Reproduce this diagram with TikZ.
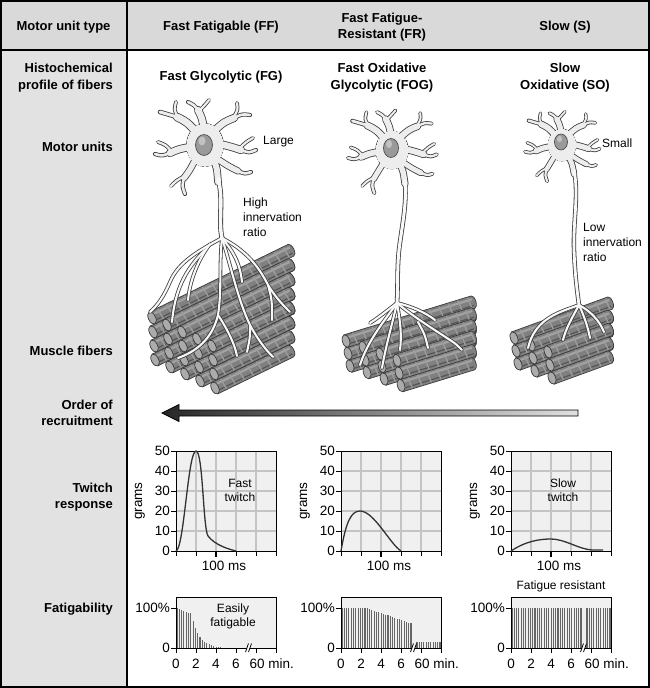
\documentclass[tikz,border=0pt]{standalone}
\usepackage{fontspec}
\setmainfont{Liberation Sans}
\definecolor{hdr}{HTML}{D9D9D9}
\definecolor{lcol}{HTML}{E2E2E2}
\definecolor{plotbg}{HTML}{F0F0F0}
\definecolor{gridc}{HTML}{C4C4C4}
\definecolor{fibg}{HTML}{808080}
\definecolor{fibd}{HTML}{3A3A3A}
\definecolor{fibh}{HTML}{A2A2A2}
\definecolor{capg}{HTML}{ABABAB}
\definecolor{barc}{HTML}{666666}
\definecolor{nrvd}{HTML}{3C3C3C}
\definecolor{somac}{HTML}{EDEDED}
\definecolor{axc}{HTML}{F8F8F8}
\definecolor{nucc}{HTML}{9A9A9A}
\tikzset{
  rowlab/.style={font=\fontsize{13}{16.5}\selectfont\bfseries, align=right, anchor=east, inner sep=0pt},
  collab/.style={font=\fontsize{13}{16.5}\selectfont\bfseries, align=center, inner sep=0pt},
  note/.style={font=\fontsize{12}{15}\selectfont, align=left, anchor=west, inner sep=0pt},
  plotnote/.style={font=\fontsize{12}{14}\selectfont, align=center, inner sep=0pt},
  axnum/.style={font=\fontsize{13.5}{15}\selectfont, inner sep=0pt},
  twcurve/.style={draw=black!80, line width=1.3, line join=round},
  fbar/.style={draw=barc, line width=1.1},
  tick/.style={draw=black, line width=0.9},
}
% fiber cylinder: cap x, cap y, length, angle
\newcommand\fib[4]{%
  \begin{scope}[shift={(#1,#2)},rotate=#4]
    \filldraw[fill=fibg,draw=fibd,line width=0.7] (0,-6.5) -- (#3,-6.5)
      arc[start angle=-90,end angle=90,x radius=3,y radius=6.5] -- (0,6.5) -- cycle;
    \draw[fibh,line width=2.2] (3,-3) -- (#3,-3);
    \draw[fibd!60!fibg,line width=1.2] (3,3.4) -- (#3,3.4);
    \foreach \s in {9,19,...,#3} \draw[fibh!85!fibg,line width=1.3] (\s,-5.6) -- (\s+1,5.6);
    \filldraw[fill=capg,draw=fibd,line width=0.7] (0,0) ellipse[x radius=3.6,y radius=6.5];
  \end{scope}}
% soma with dendrites, one pass
\newcommand\somapass[2]{%
  \filldraw[fill=#2,draw=#2,line width=#1] (0,0) ellipse[x radius=18,y radius=21];
  \foreach \w/\ax/\ay/\bx/\by/\cx/\cy in {
    7/-8/-12/-18/-23/-28/-28, 3/-28/-28/-37/-31/-45/-33, 2.2/-27/-28/-31/-35/-29/-43,
    6.5/-1/-16/-3/-27/-7/-35, 2.6/-7/-35/-11/-40/-17/-43, 2.2/-6/-34/0/-40/4/-45,
    6.5/9/-14/19/-23/29/-27, 2.6/29/-27/37/-31/45/-30, 2.2/28/-27/33/-35/32/-42,
    6.5/15/-1/27/2/36/5, 2.6/36/5/44/8/51/5, 2.2/34/4/41/-3/48/-7,
    5.5/11/13/23/21/33/26, 2.6/33/26/40/29/46/27,
    6.5/-15/2/-26/4/-35/8, 2.6/-35/8/-43/11/-50/9, 2.2/-33/7/-39/0/-47/-3,
    5.5/-10/15/-15/25/-21/33, 2.6/-21/33/-23/41/-20/49, 2.2/-20/31/-28/35/-34/41}
    \draw[color=#2,line width=\w*\wf+#1,line cap=round] (\ax,\ay) .. controls (\bx,\by) .. (\cx,\cy);
}
\begin{document}
\begin{tikzpicture}[x=1pt,y=-1pt]
\useasboundingbox (0,0) rectangle (650,688);
% backgrounds
\fill[white] (0,0) rectangle (650,688);
\fill[hdr] (0,0) rectangle (650,50);
\fill[lcol] (0,50) rectangle (127,688);
\draw[black,line width=1.5] (0,50) -- (650,50);
\draw[black,line width=1.5] (127,0) -- (127,688);
\draw[black,line width=2] (1,1) rectangle (649,687);

% header
\node[collab] (hmu) at (63.5,27) {Motor unit type};
\node[collab] (hff) at (221,27) {Fast Fatigable (FF)};
\node[collab] (hfr) at (382,27) {Fast Fatigue-\\Resistant (FR)};
\node[collab] (hs) at (565,27) {Slow (S)};
% row labels
\node[rowlab] (lhist) at (113,77.5) {Histochemical\\profile of fibers};
\node[rowlab] (lmu) at (113,147) {Motor units};
\node[rowlab] (lmf) at (113,351) {Muscle fibers};
\node[rowlab] (lord) at (113,413) {Order of\\recruitment};
\node[rowlab] (ltw) at (113,497) {Twitch\\response};
\node[rowlab] (lfat) at (113,609) {Fatigability};
% histochemical
\node[collab] (fg) at (221,77) {Fast Glycolytic (FG)};
\node[collab] (fog) at (382,77.5) {Fast Oxidative\\Glycolytic (FOG)};
\node[collab] (so) at (565,77.5) {Slow\\Oxidative (SO)};

% ---------- fiber bundles ----------
\foreach \i in {0,...,4} \foreach \k in {0,...,3} {
  \pgfmathsetmacro\fx{155+15*\i-1*\k}
  \pgfmathsetmacro\fy{360+7*\i-14*\k}
  \pgfmathsetmacro\fl{(291-\fx)/cos(26)}
  \fib{\fx}{\fy}{\fl}{26}
}
\foreach \i in {0,...,3} \foreach \k in {0,...,2} {
  \pgfmathsetmacro\fx{350+17*\i-2*\k}
  \pgfmathsetmacro\fy{366+6.5*\i-12.5*\k}
  \pgfmathsetmacro\fl{(473-\fx)/cos(17)}
  \fib{\fx}{\fy}{\fl}{17}
}
\foreach \i in {0,...,2} \foreach \k in {0,...,2} {
  \pgfmathsetmacro\fx{518+17*\i-2*\k}
  \pgfmathsetmacro\fy{364+7*\i-13*\k}
  \pgfmathsetmacro\fl{(610-\fx)/cos(20)}
  \fib{\fx}{\fy}{\fl}{20}
}

% ---------- neuron FF ----------
\foreach \ex/\col/\scol in {1.6/nrvd/nrvd,0/axc/somac}{
  \begin{scope}[shift={(205,145)}]\def\wf{1}\somapass{\ex}{\scol}\end{scope}
  \draw[color=\scol,line width=6+\ex,line cap=round] (213,158) .. controls (217,168) .. (218,182);
  \draw[color=\col,line width=3.4+\ex,line cap=round] (218,178) .. controls (224,200) and (218,220) .. (222,238);
  \begin{scope}[color=\col,line width=2.1+\ex,line cap=round,line join=round]
    \draw (222,238) .. controls (200,250) and (178,262) .. (170,282) .. controls (164,296) and (158,305) .. (150,312);
    \draw (205,250) .. controls (185,270) and (175,290) .. (172,322);
    \draw (222,238) .. controls (219,265) and (222,290) .. (218,315) .. controls (212,340) and (195,352) .. (178,358);
    \draw (218,315) .. controls (228,330) and (235,345) .. (237,356);
    \draw (222,238) .. controls (232,270) and (238,300) .. (250,325) .. controls (258,340) and (266,350) .. (273,357);
    \draw (250,325) .. controls (250,338) .. (247,352);
    \draw (222,238) .. controls (245,250) and (258,265) .. (268,285) .. controls (276,298) and (283,305) .. (290,312);
    \draw (268,285) .. controls (272,300) .. (272,320);
    \draw (222,238) .. controls (232,250) and (240,262) .. (242,282);
    \draw (210,244) .. controls (198,260) and (190,280) .. (188,300);
  \end{scope}
}
\filldraw[fill=nucc,draw=black!70,line width=0.7] (204,145) ellipse[x radius=8.5,y radius=10.5];
\fill[nucc!60!white] (202,141) ellipse[x radius=3.5,y radius=4.5];

% ---------- neuron FR ----------
\foreach \ex/\col/\scol in {1.6/nrvd/nrvd,0/axc/somac}{
  \begin{scope}[shift={(392,150)},scale=0.88]\def\wf{0.9}\somapass{\ex}{\scol}\end{scope}
  \draw[color=\scol,line width=5.5+\ex,line cap=round] (399,163) .. controls (403,170) .. (405,184);
  \draw[color=\col,line width=3+\ex,line cap=round] (405,180) .. controls (407,205) and (402,225) .. (399,250) .. controls (397,270) and (398,285) .. (397,303);
  \begin{scope}[color=\col,line width=2.1+\ex,line cap=round,line join=round]
    \draw (397,303) .. controls (385,320) and (368,340) .. (360,365);
    \draw (397,303) .. controls (392,325) and (386,345) .. (382,368);
    \draw (397,303) .. controls (400,320) and (402,335) .. (400,350);
    \draw (397,303) .. controls (415,318) and (435,330) .. (450,340) .. controls (456,344) .. (462,350);
    \draw (397,303) .. controls (410,306) and (425,312) .. (435,320);
    \draw (397,303) .. controls (388,310) and (378,318) .. (370,323);
    \draw (418,322) .. controls (425,335) .. (428,348);
  \end{scope}
}
\filldraw[fill=nucc,draw=black!70,line width=0.7] (391,148) ellipse[x radius=7.5,y radius=9.5];
\fill[nucc!60!white] (389,144) ellipse[x radius=3,y radius=4];

% ---------- neuron S ----------
\foreach \ex/\col/\scol in {1.6/nrvd/nrvd,0/axc/somac}{
  \begin{scope}[shift={(562,145)},scale=0.74]\def\wf{0.8}\somapass{\ex}{\scol}\end{scope}
  \draw[color=\scol,line width=4.8+\ex,line cap=round] (568,156) .. controls (572,163) .. (574,174);
  \draw[color=\col,line width=2.8+\ex,line cap=round] (574,170) .. controls (579,195) and (573,220) .. (574,250) .. controls (575,275) and (577,290) .. (579,305);
  \begin{scope}[color=\col,line width=2.1+\ex,line cap=round,line join=round]
    \draw (579,305) .. controls (560,312) and (535,318) .. (528,348);
    \draw (579,305) .. controls (572,318) and (566,328) .. (563,340);
    \draw (579,305) .. controls (585,318) and (588,328) .. (590,338);
    \draw (579,305) .. controls (592,312) and (600,322) .. (604,332);
  \end{scope}
}
\filldraw[fill=nucc,draw=black!70,line width=0.7] (561,142) ellipse[x radius=6.5,y radius=8];
\fill[nucc!60!white] (559.5,139) ellipse[x radius=2.5,y radius=3.2];

% motor unit notes
\node[note] (nlarge) at (263,142) {Large};
\node[note] (nhigh) at (243,217) {High\\innervation\\ratio};
\node[note] (nsmall) at (602,143) {Small};
\node[note] (nlow) at (583,242) {Low\\innervation\\ratio};

% ---------- recruitment arrow ----------
\shadedraw[left color=black!85,right color=black!12,draw=black,line width=0.8]
  (162,413) -- (179,404.5) -- (179,410) -- (578,410) -- (578,416) -- (179,416) -- (179,421.5) -- cycle;

% ---------- twitch plots ----------
\foreach \xo in {176,341,511}{
  \fill[plotbg] (\xo,451) rectangle ++(100,100);
  \foreach \j in {1,...,4}{
    \draw[gridc,line width=1.1] (\xo+20*\j,451) -- (\xo+20*\j,551);
    \draw[gridc,line width=1.1] (\xo,451+20*\j) -- (\xo+100,451+20*\j);
  }
  \draw[black,line width=1] (\xo,451) rectangle ++(100,100);
  \foreach \v in {0,10,...,50}{
    \draw[tick] (\xo-5,551-2*\v) -- (\xo,551-2*\v);
    \node[axnum,anchor=east] at (\xo-6,551-2*\v) {\v};
  }
  \foreach \j in {0,...,5} \draw[tick] (\xo+20*\j,551) -- (\xo+20*\j,556);
  \draw[black,line width=1.8] (\xo+40,551) -- (\xo+40,557);
  \node[axnum,rotate=90] at (\xo-36,501) {grams};
  \node[axnum] at (\xo+48,566) {100 ms};
}
\draw[twcurve] (176,551) .. controls (184,549) and (188,451) .. (196,451) .. controls (203,451) and (203,528) .. (208,536) .. controls (215,545) and (228,549) .. (236,551);
\draw[twcurve] (341,551) .. controls (346,522) and (351,511) .. (360,511) .. controls (374,511) and (390,544) .. (401,551);
\draw[twcurve] (511,551) .. controls (526,541) and (540,539) .. (551,539) .. controls (565,539) and (578,549) .. (592,550) -- (603,550);
\node[plotnote] (ftw) at (240,490) {Fast\\twitch};
\node[plotnote] (stw) at (563,490) {Slow\\twitch};

% ---------- fatigability plots ----------
\foreach \xo in {176,341,511} \fill[plotbg] (\xo,597) rectangle ++(100,51);
\foreach \n in {0,...,19}{
  \pgfmathsetmacro\t{1+2.3*\n}
  \pgfmathsetmacro\h{(\t<15) ? (100-0.9*\t) : (86.5*exp(-(\t-15)/8))}
  \draw[fbar] (176+\t,648) -- (176+\t,648-0.4*\h);
}
\foreach \n in {0,...,30}{
  \pgfmathsetmacro\t{1+2.3*\n}
  \pgfmathsetmacro\h{(\t<25) ? 100 : (100-0.85*(\t-25))}
  \draw[fbar] (341+\t,648) -- (341+\t,648-0.4*\h);
}
\foreach \n in {0,...,10}{
  \pgfmathsetmacro\t{76+2.3*\n}
  \draw[fbar] (341+\t,648) -- (341+\t,641.6);
}
\foreach \n in {0,...,30}{
  \pgfmathsetmacro\t{1+2.3*\n}
  \draw[fbar] (511+\t,648) -- (511+\t,608);
}
\foreach \n in {0,...,10}{
  \pgfmathsetmacro\t{76+2.3*\n}
  \draw[fbar] (511+\t,648) -- (511+\t,608);
}
\foreach \xo in {176,341,511}{
  \draw[black,line width=1] (\xo,597) rectangle ++(100,51);
  \draw[tick] (\xo-5,608) -- (\xo,608);
  \draw[tick] (\xo-5,648) -- (\xo,648);
  \node[axnum,anchor=east] at (\xo-6,608) {100\%};
  \node[axnum,anchor=east] at (\xo-6,648) {0};
  \foreach \j in {0,...,5} \draw[tick] (\xo+20*\j,648) -- (\xo+20*\j,653);
  \foreach \j/\l in {0/0,1/2,2/4,3/6} \node[axnum] at (\xo+20*\j,664) {\l};
  \node[axnum,anchor=west] at (\xo+73.5,664) {60 min.};
  \fill[white] (\xo+69.5,652) -- (\xo+72.5,643.5) -- (\xo+75.5,643.5) -- (\xo+72.5,652) -- cycle;
  \draw[black,line width=0.8] (\xo+69.5,652) -- (\xo+72.5,643.5) (\xo+72.5,652) -- (\xo+75.5,643.5);
}
\node[plotnote] (easy) at (233,616.5) {Easily\\fatigable};
\node[plotnote] (fres) at (561,586) {Fatigue resistant};
\end{tikzpicture}
\end{document}
